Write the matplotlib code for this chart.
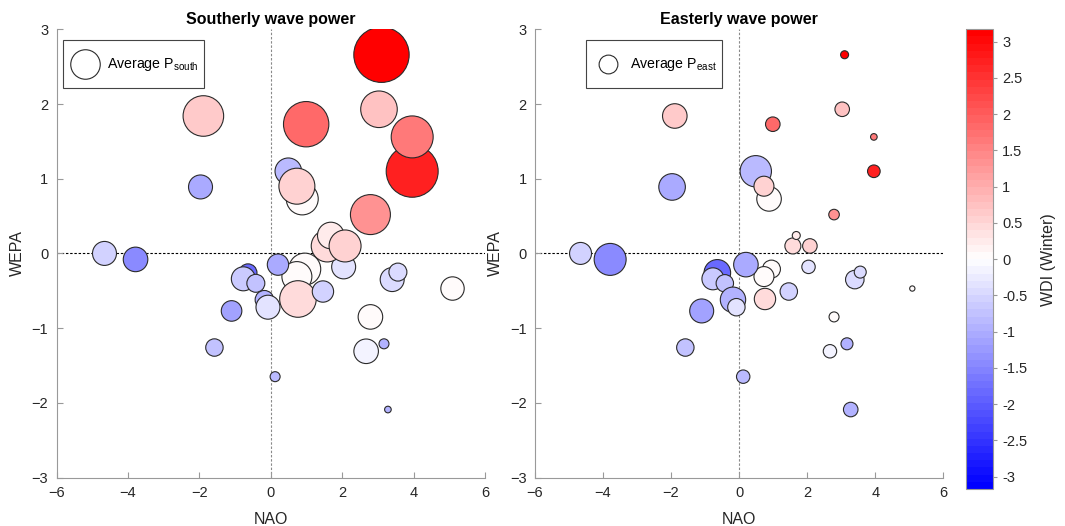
import numpy as np
import matplotlib
matplotlib.use('Agg')
import matplotlib.pyplot as plt
from matplotlib.colors import LinearSegmentedColormap, Normalize
from matplotlib.cm import ScalarMappable

plt.rcParams['font.family'] = ['Liberation Sans', 'DejaVu Sans']
plt.rcParams['mathtext.default'] = 'regular'

# winter seasons (drawing order), NAO / WEPA index, WDI colour, wave power sizes
nao = [3.96, 3.96, 3.10, 3.03, 0.99, -1.89, -1.97, 0.49, 0.88, 0.73,
       2.79, 2.04, 1.58, 1.68, 2.08, -4.66, -3.79, 0.95, 0.73, 0.20,
       -0.64, -0.77, -0.42, -0.18, -0.08, 0.76, 1.46, 3.40, 3.56, 5.09,
       -1.10, 2.79, -1.58, 2.67, 3.17, 0.12, 3.28]
wepa = [1.10, 1.56, 2.66, 1.93, 1.73, 1.84, 0.89, 1.10, 0.73, 0.90,
        0.52, -0.18, 0.10, 0.24, 0.10, 0.00, -0.08, -0.21, -0.31, -0.15,
        -0.26, -0.34, -0.40, -0.62, -0.72, -0.61, -0.51, -0.35, -0.25, -0.47,
        -0.77, -0.85, -1.26, -1.31, -1.21, -1.65, -2.09]
wdi = [2.7, 1.6, 3.1, 0.75, 1.8, 0.6, -1.0, -0.85, 0.0, 0.5,
       1.3, -0.3, 0.45, 0.25, 0.5, -0.5, -1.45, 0.0, 0.02, -1.0,
       -1.8, -0.65, -0.7, -0.95, -0.35, 0.45, -0.5, -0.4, -0.4, 0.0,
       -1.1, 0.0, -0.75, -0.15, -0.95, -0.85, -0.9]
p_south = [67.6, 44.1, 76.7, 33.5, 51.5, 41.2, 14.4, 17.7, 25.6, 32.4,
           40.0, 14.4, 25.6, 17.7, 25.6, 14.4, 15.1, 25.6, 22.5, 11.4,
           8.1, 14.4, 8.1, 8.6, 14.4, 33.5, 11.4, 14.4, 8.1, 13.7,
           10.6, 15.1, 7.6, 15.1, 2.5, 2.5, 1.1]
p_east = [4.0, 1.1, 1.6, 5.3, 5.3, 15.1, 17.7, 24.6, 15.1, 10.0,
          2.8, 4.5, 6.4, 1.6, 5.3, 12.1, 25.6, 8.1, 10.0, 15.1,
          17.7, 12.1, 7.6, 16.1, 7.6, 11.4, 7.6, 8.6, 3.6, 0.7,
          14.4, 2.5, 7.6, 4.5, 3.6, 4.5, 5.3]

size_scale = 20.7
cmap = LinearSegmentedColormap.from_list('bwr64', ['#0000ff', '#ffffff', '#ff0000'], N=64)
norm = Normalize(vmin=-3.17, vmax=3.17)

fig = plt.figure(figsize=(10.65, 5.26), dpi=100)
ax1 = fig.add_axes([0.0532, 0.0922, 0.4022, 0.852])
ax2 = fig.add_axes([0.5023, 0.0922, 0.3834, 0.852])
cax = fig.add_axes([0.907, 0.0703, 0.0254, 0.874])

panels = [(ax1, p_south, 'Southerly wave power', 'Average P$_{south}$', 0.015),
          (ax2, p_east, 'Easterly wave power', 'Average P$_{east}$', 0.125)]

for ax, p, title, leg_label, leg_x in panels:
    ax.axhline(0, color='black', lw=0.8, ls=(0, (2.2, 1.6)), zorder=1)
    ax.axvline(0, color='#8a8a8a', lw=0.8, ls=(0, (2.2, 1.6)), zorder=1)
    ax.scatter(nao, wepa, s=np.array(p) * size_scale, c=wdi, cmap=cmap, norm=norm,
               edgecolors='#2a2a2a', linewidths=0.8, zorder=2)
    avg = ax.scatter([], [], s=np.mean(p) * size_scale, facecolors='white',
                     edgecolors='#2a2a2a', linewidths=0.8, label=leg_label)
    leg = ax.legend(handles=[avg], loc='upper left', bbox_to_anchor=(leg_x, 0.976),
                    borderaxespad=0, fancybox=False, framealpha=1, fontsize=10.2,
                    borderpad=0.4, handletextpad=0.45, handlelength=2.25,
                    handleheight=3.6, scatteryoffsets=[0.11])
    leg.get_frame().set_edgecolor('#444444')
    leg.get_frame().set_linewidth(0.8)
    ax.set_xlim(-6, 6)
    ax.set_ylim(-3, 3)
    ax.set_xticks([-6, -4, -2, 0, 2, 4, 6])
    ax.set_yticks([-3, -2, -1, 0, 1, 2, 3])
    for side in ['top', 'right']:
        ax.spines[side].set_visible(False)
    for side in ['left', 'bottom']:
        ax.spines[side].set_color('#999999')
        ax.spines[side].set_linewidth(0.8)
    ax.tick_params(direction='in', length=4, color='#999999', labelsize=10.5,
                   labelcolor='#262626', pad=6)
    ax.set_title(title, fontsize=11.5, fontweight='bold', pad=4)
    ax.set_xlabel('NAO', fontsize=11.5, color='#262626', labelpad=9)
    ax.set_ylabel('WEPA', fontsize=11.5, color='#262626', labelpad=5)

cb = fig.colorbar(ScalarMappable(norm=norm, cmap=cmap), cax=cax)
cb.set_ticks([-3, -2.5, -2, -1.5, -1, -0.5, 0, 0.5, 1, 1.5, 2, 2.5, 3])
cb.set_ticklabels(['-3', '-2.5', '-2', '-1.5', '-1', '-0.5', '0', '0.5', '1', '1.5', '2', '2.5', '3'])
cb.ax.tick_params(direction='out', length=3, color='#999999', labelsize=10.5,
                  labelcolor='#262626')
cb.outline.set_edgecolor('#999999')
cb.outline.set_linewidth(0.8)
cb.set_label('WDI (Winter)', fontsize=11.5, color='#262626', labelpad=10)

fig.savefig('out.png', dpi=100)
